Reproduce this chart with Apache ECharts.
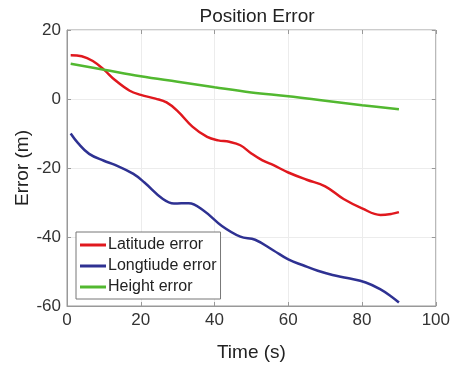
<!DOCTYPE html>
<html lang="en">
<head>
    <meta charset="UTF-8">
    <title>Position Error</title>
    <script src="https://cdn.jsdelivr.net/npm/echarts@6/dist/echarts.min.js"></script>
    <style>
        html, body { margin: 0; padding: 0; background: #fff; }
    </style>
</head>
<body>
<div id="main" style="width: 453px;height:367px;"></div>
<script>
    // latitude error (red)
    var latTime = [1, 4, 7, 10, 13, 17, 20, 24, 27, 30, 34, 38, 41, 44, 47, 50, 53, 56, 60, 65, 70, 75, 80, 85, 88, 90];
    var latErr = [12.7, 12.4, 11.0, 8.5, 5.5, 2.4, 1.2, 0.1, -1.0, -3.5, -8.0, -11.0, -12.0, -12.4, -13.4, -15.8, -17.8, -19.2, -21.3, -23.4, -25.3, -29.0, -31.7, -33.6, -33.3, -32.8];
    // longitude error (blue)
    var lonTime = [1, 3, 6, 10, 13, 18, 21, 26, 29, 33, 37, 42, 47, 51, 56, 60, 64, 68, 72, 76, 81, 85, 88, 90];
    var lonErr = [-10, -12.8, -15.9, -17.9, -19.1, -21.7, -24.2, -29.0, -30.3, -30.2, -32.3, -36.8, -39.9, -40.8, -43.9, -46.5, -48.2, -49.8, -51.0, -51.9, -53.2, -55.2, -57.3, -59.0];
    // height error (green)
    var hgtTime = [1, 10, 20, 30, 40, 50, 60, 70, 80, 90];
    var hgtErr = [10.2, 8.5, 6.6, 5.0, 3.4, 1.9, 0.8, -0.5, -1.8, -3.0];

    var names = ['Latitude error', 'Longtiude error', 'Height error'];
    var colors = ['#e0181e', '#2e3192', '#52b830'];

    function pairs(xs, ys) {
        var arr = [];
        for (var i = 0; i < xs.length; i++) {
            arr.push([xs[i], ys[i]]);
        }
        return arr;
    }

    function line(i, xs, ys) {
        return {
            name: names[i],
            type: 'line',
            smooth: 0.4,
            showSymbol: false,
            color: colors[i],
            lineStyle: {width: 2.5, color: colors[i]},
            data: pairs(xs, ys)
        };
    }

    var font = 'Liberation Sans, Arial, sans-serif';
    var myChart = echarts.init(document.getElementById('main'));
    var option = {
        animation: false,
        backgroundColor: '#fff',
        title: {
            text: 'Position Error',
            left: 252,
            textAlign: 'center',
            top: 2,
            textStyle: {fontFamily: font, fontSize: 19, fontWeight: 'normal', color: '#222'}
        },
        legend: {
            orient: 'vertical',
            left: 76,
            top: 232,
            data: names,
            icon: 'rect',
            itemWidth: 26,
            itemHeight: 3,
            itemGap: 5,
            padding: [5, 4, 4, 4],
            backgroundColor: '#fff',
            borderColor: '#777',
            borderWidth: 1,
            borderRadius: 0,
            textStyle: {fontFamily: font, fontSize: 16, color: '#222', padding: [0, 0, 0, -3]}
        },
        grid: {
            left: 67,
            right: 16,
            top: 30,
            bottom: 61,
            show: true,
            borderColor: '#999',
            borderWidth: 1
        },
        xAxis: [
            {
                type: 'value',
                min: 0,
                max: 100,
                interval: 20,
                name: 'Time (s)',
                nameLocation: 'middle',
                nameGap: 37,
                nameMoveOverlap: false,
                nameTextStyle: {fontFamily: font, fontSize: 19, color: '#222'},
                axisLine: {show: true, onZero: false, lineStyle: {color: '#999'}},
                axisTick: {inside: true, length: 4, lineStyle: {color: '#999'}},
                axisLabel: {fontFamily: font, fontSize: 17, color: '#333', margin: 6},
                splitLine: {show: true, lineStyle: {color: '#ececec'}}
            },
            {
                type: 'value',
                position: 'top',
                min: 0,
                max: 100,
                interval: 20,
                axisLine: {show: false, onZero: false},
                axisTick: {inside: true, length: 4, lineStyle: {color: '#999'}},
                axisLabel: {show: false},
                splitLine: {show: false}
            }
        ],
        yAxis: [
            {
                type: 'value',
                min: -60,
                max: 20,
                interval: 20,
                name: 'Error (m)',
                nameLocation: 'middle',
                nameGap: 35,
                nameMoveOverlap: false,
                nameTextStyle: {fontFamily: font, fontSize: 19, color: '#222'},
                axisLine: {show: true, onZero: false, lineStyle: {color: '#999'}},
                axisTick: {show: true, inside: true, length: 4, lineStyle: {color: '#999'}},
                axisLabel: {fontFamily: font, fontSize: 17, color: '#333', margin: 6},
                splitLine: {show: true, lineStyle: {color: '#ececec'}}
            },
            {
                type: 'value',
                position: 'right',
                min: -60,
                max: 20,
                interval: 20,
                axisLine: {show: false, onZero: false},
                axisTick: {show: true, inside: true, length: 4, lineStyle: {color: '#999'}},
                axisLabel: {show: false},
                splitLine: {show: false}
            }
        ],
        series: [
            line(0, latTime, latErr),
            line(1, lonTime, lonErr),
            line(2, hgtTime, hgtErr)
        ]
    };
    myChart.setOption(option);
</script>
</body>
</html>
